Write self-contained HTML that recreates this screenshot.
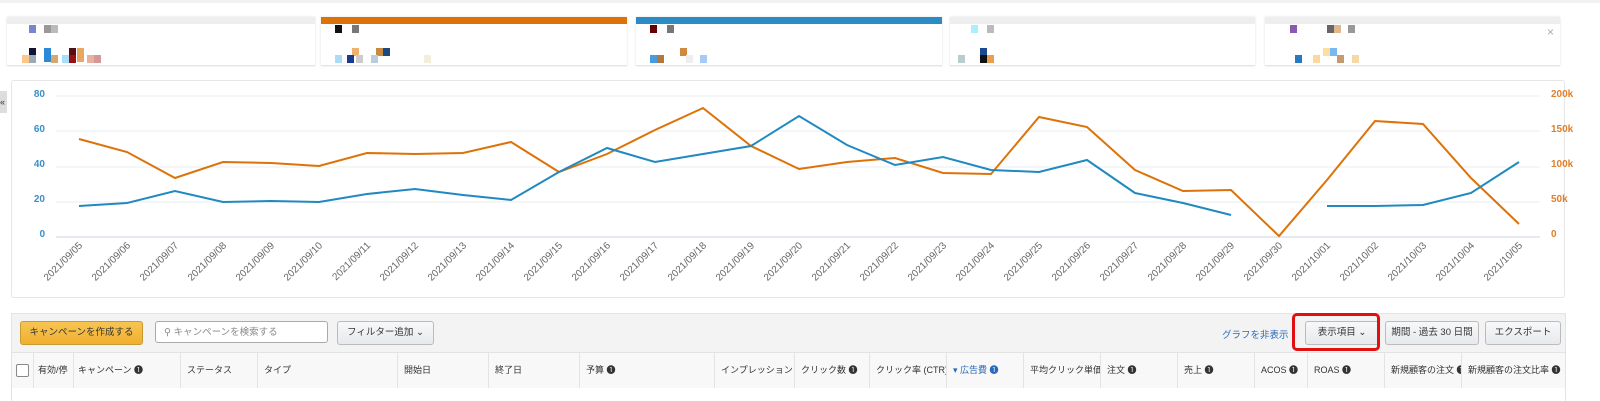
<!DOCTYPE html>
<html><head><meta charset="utf-8"><style>
body{margin:0;width:1600px;height:401px;background:#fff;font-family:"Liberation Sans","Noto Sans CJK JP",sans-serif;position:relative;overflow:hidden}
.abs{position:absolute}
.card{position:absolute;top:17px;height:48px;background:#fff;border-bottom:1px solid #e4e4e4;box-shadow:0 0 2px #ddd}
.bar{position:absolute;left:0;right:0;top:0;height:7px;background:#eee}
.px{position:absolute;width:7px;height:8px}
.btn{position:absolute;height:22px;border:1px solid #bbb;border-radius:3px;background:linear-gradient(#f7f8fa,#e7e9ec);font-size:9.5px;color:#333;line-height:22px;text-align:center}
.th{position:absolute;top:352px;height:36px;line-height:36px;font-size:9px;color:#333;border-left:1px solid #e3e3e3;padding-left:6px;box-sizing:border-box;white-space:nowrap;overflow:hidden}
</style></head><body>
<div class="abs" style="left:0;top:0;width:1600px;height:3px;background:#f2f2f2"></div>
<div class="card" style="left:7px;width:308px"><div class="bar"></div>
<div class="px" style="left:22px;top:8px;background:#7a86cc"></div><div class="px" style="left:37px;top:8px;background:#999"></div><div class="px" style="left:44px;top:8px;background:#bbb"></div>
<div class="px" style="left:22px;top:31px;background:#113"></div><div class="px" style="left:37px;top:31px;background:#2a8ad8;height:14px"></div><div class="px" style="left:62px;top:31px;background:#511;height:14px"></div><div class="px" style="left:70px;top:31px;background:#e8a860;height:14px"></div><div class="px" style="left:15px;top:38px;background:#fcc88a"></div><div class="px" style="left:22px;top:38px;background:#9ab"></div><div class="px" style="left:44px;top:38px;background:#d4a870"></div><div class="px" style="left:55px;top:38px;background:#aaddf8"></div><div class="px" style="left:62px;top:38px;background:#911"></div><div class="px" style="left:80px;top:38px;background:#e8b0a0"></div><div class="px" style="left:87px;top:38px;background:#d49898"></div></div>
<div class="card" style="left:321px;width:306px"><div class="bar" style="background:#dd7208"></div>
<div class="px" style="left:14px;top:8px;background:#111"></div><div class="px" style="left:31px;top:8px;background:#777"></div>
<div class="px" style="left:31px;top:31px;background:#f0b070"></div><div class="px" style="left:55px;top:31px;background:#c88a40"></div><div class="px" style="left:62px;top:31px;background:#1a4a80"></div><div class="px" style="left:14px;top:38px;background:#aadcf8"></div><div class="px" style="left:26px;top:38px;background:#1a3a90"></div><div class="px" style="left:35px;top:38px;background:#ccc"></div><div class="px" style="left:50px;top:38px;background:#bcd"></div><div class="px" style="left:103px;top:38px;background:#f2eedc"></div></div>
<div class="card" style="left:636px;width:306px"><div class="bar" style="background:#2c8ac4"></div>
<div class="px" style="left:14px;top:8px;background:#600"></div><div class="px" style="left:31px;top:8px;background:#777"></div>
<div class="px" style="left:44px;top:31px;background:#d08a40"></div><div class="px" style="left:14px;top:38px;background:#4a9ae0"></div><div class="px" style="left:21px;top:38px;background:#b07840"></div><div class="px" style="left:50px;top:38px;background:#eee"></div><div class="px" style="left:64px;top:38px;background:#a8c8f8"></div></div>
<div class="card" style="left:950px;width:305px"><div class="bar"></div>
<div class="px" style="left:21px;top:8px;background:#aef"></div><div class="px" style="left:37px;top:8px;background:#bbb"></div>
<div class="px" style="left:30px;top:31px;background:#1a4a90"></div><div class="px" style="left:8px;top:38px;background:#bcc"></div><div class="px" style="left:30px;top:38px;background:#111"></div><div class="px" style="left:37px;top:38px;background:#e8a050"></div></div>
<div class="card" style="left:1265px;width:295px"><div class="bar"></div>
<div class="px" style="left:25px;top:8px;background:#8a5ab0"></div><div class="px" style="left:62px;top:8px;background:#666"></div><div class="px" style="left:69px;top:8px;background:#e0b890"></div><div class="px" style="left:83px;top:8px;background:#999"></div>
<div class="px" style="left:30px;top:38px;background:#2a78c0"></div><div class="px" style="left:58px;top:31px;background:#fde0a0"></div><div class="px" style="left:65px;top:31px;background:#7ab8f0"></div><div class="px" style="left:48px;top:38px;background:#fcd8a0"></div><div class="px" style="left:72px;top:38px;background:#c89a70"></div><div class="px" style="left:87px;top:38px;background:#f4d8a8"></div>
<div class="abs" style="right:6px;top:8px;font-size:12px;color:#aaa">×</div></div>

<div class="abs" style="left:0;top:91px;width:7px;height:22px;background:#ddd;font-size:9px;line-height:22px;color:#333">«</div>
<div class="abs" style="left:11px;top:80px;width:1554px;height:218px;border:1px solid #e6e6e6;border-radius:3px;box-sizing:border-box"></div>
<svg class="abs" style="left:0;top:0" width="1600" height="401">
<g stroke="#e8ecef" stroke-width="1"><line x1="56" x2="1540" y1="96" y2="96"/><line x1="56" x2="1540" y1="131" y2="131"/><line x1="56" x2="1540" y1="167" y2="167"/><line x1="56" x2="1540" y1="202" y2="202"/></g>
<line x1="56" x2="1540" y1="237" y2="237" stroke="#ccd6e0"/>
<g font-size="10" fill="#3a8fc4" font-weight="bold" text-anchor="end" font-family="Liberation Sans,sans-serif"><text x="45" y="97">80</text><text x="45" y="132">60</text><text x="45" y="167">40</text><text x="45" y="202">20</text><text x="45" y="237">0</text></g>
<g font-size="10" fill="#e07f2a" font-weight="bold" font-family="Liberation Sans,sans-serif"><text x="1551" y="97">200k</text><text x="1551" y="132">150k</text><text x="1551" y="167">100k</text><text x="1551" y="202">50k</text><text x="1551" y="237">0</text></g>
<polyline fill="none" stroke="#dd7208" stroke-width="2" points="79,139 127,152 175,178 223,162 271,163 319,166 367,153 415,154 463,153 511,142 559,172 607,154 655,130 703,108 751,146 799,169 847,162 895,158 943,173 991,174 1039,117 1087,127 1135,170 1183,191 1231,190 1279,236 1327,180 1375,121 1423,124 1471,178 1519,224"/>
<polyline fill="none" stroke="#2089c0" stroke-width="2" points="79,206 127,203 175,191 223,202 271,201 319,202 367,194 415,189 463,195 511,200 559,172 607,148 655,162 703,154 751,146 799,116 847,145 895,165 943,157 991,170 1039,172 1087,160 1135,193 1183,203 1231,215"/>
<polyline fill="none" stroke="#2089c0" stroke-width="2" points="1327,206 1375,206 1423,205 1471,193 1519,162"/>
<g font-size="10" fill="#666" font-family="Liberation Sans,sans-serif" text-anchor="end">
<text transform="translate(83,246) rotate(-45)">2021/09/05</text><text transform="translate(131,246) rotate(-45)">2021/09/06</text><text transform="translate(179,246) rotate(-45)">2021/09/07</text><text transform="translate(227,246) rotate(-45)">2021/09/08</text><text transform="translate(275,246) rotate(-45)">2021/09/09</text><text transform="translate(323,246) rotate(-45)">2021/09/10</text><text transform="translate(371,246) rotate(-45)">2021/09/11</text><text transform="translate(419,246) rotate(-45)">2021/09/12</text><text transform="translate(467,246) rotate(-45)">2021/09/13</text><text transform="translate(515,246) rotate(-45)">2021/09/14</text><text transform="translate(563,246) rotate(-45)">2021/09/15</text><text transform="translate(611,246) rotate(-45)">2021/09/16</text><text transform="translate(659,246) rotate(-45)">2021/09/17</text><text transform="translate(707,246) rotate(-45)">2021/09/18</text><text transform="translate(755,246) rotate(-45)">2021/09/19</text><text transform="translate(803,246) rotate(-45)">2021/09/20</text><text transform="translate(851,246) rotate(-45)">2021/09/21</text><text transform="translate(899,246) rotate(-45)">2021/09/22</text><text transform="translate(947,246) rotate(-45)">2021/09/23</text><text transform="translate(995,246) rotate(-45)">2021/09/24</text><text transform="translate(1043,246) rotate(-45)">2021/09/25</text><text transform="translate(1091,246) rotate(-45)">2021/09/26</text><text transform="translate(1139,246) rotate(-45)">2021/09/27</text><text transform="translate(1187,246) rotate(-45)">2021/09/28</text><text transform="translate(1235,246) rotate(-45)">2021/09/29</text><text transform="translate(1283,246) rotate(-45)">2021/09/30</text><text transform="translate(1331,246) rotate(-45)">2021/10/01</text><text transform="translate(1379,246) rotate(-45)">2021/10/02</text><text transform="translate(1427,246) rotate(-45)">2021/10/03</text><text transform="translate(1475,246) rotate(-45)">2021/10/04</text><text transform="translate(1523,246) rotate(-45)">2021/10/05</text>
</g></svg>

<div class="abs" style="left:11px;top:313px;width:1555px;height:39px;background:#f3f3f3;border:1px solid #e3e3e3;border-bottom:none;box-sizing:border-box"></div>
<div class="btn" style="left:20px;top:321px;width:121px;background:linear-gradient(#f7c552,#f0b030);border-color:#c89a30">キャンペーンを作成する</div>
<div class="abs" style="left:155px;top:321px;width:173px;height:22px;border:1px solid #aaa;border-radius:3px;background:#fff;font-size:9.5px;color:#888;line-height:22px;padding-left:8px;box-sizing:border-box">⚲ キャンペーンを検索する</div>
<div class="btn" style="left:337px;top:321px;width:95px">フィルター追加 ⌄</div>
<div class="abs" style="left:1222px;top:327px;font-size:9.5px;color:#2a6ab8">グラフを非表示</div>
<div class="btn" style="left:1305px;top:321px;width:72px">表示項目 ⌄</div>
<div class="abs" style="left:1292px;top:313px;width:88px;height:38px;border:3px solid #e01010;border-radius:5px;box-sizing:border-box"></div>
<div class="btn" style="left:1385px;top:321px;width:92px">期間 - 過去 30 日間</div>
<div class="btn" style="left:1485px;top:321px;width:74px">エクスポート</div>
<div class="abs" style="left:11px;top:352px;width:1555px;height:37px;background:#f8f8f8;border:1px solid #e3e3e3;box-sizing:border-box"></div>
<div class="abs" style="left:11px;top:388px;width:1555px;height:13px;background:#fff;border-left:1px solid #e3e3e3;border-right:1px solid #e3e3e3;box-sizing:border-box"></div>
<div class="abs" style="left:16px;top:364px;width:11px;height:11px;border:1px solid #888;border-radius:2px;background:#fff"></div>
<div class="th" style="left:33px;width:40px;padding-left:4px">有効/停</div>
<div class="th" style="left:73px;width:107px;padding-left:4px">キャンペーン ❶</div>
<div class="th" style="left:180px;width:77px">ステータス</div>
<div class="th" style="left:257px;width:140px">タイプ</div>
<div class="th" style="left:397px;width:91px">開始日</div>
<div class="th" style="left:488px;width:91px">終了日</div>
<div class="th" style="left:579px;width:135px">予算 ❶</div>
<div class="th" style="left:714px;width:80px">インプレッション</div>
<div class="th" style="left:794px;width:75px">クリック数 ❶</div>
<div class="th" style="left:869px;width:77px">クリック率 (CTR)</div>
<div class="th" style="left:946px;width:77px;color:#2a6ab8">▾ 広告費 ❶</div>
<div class="th" style="left:1023px;width:77px">平均クリック単価</div>
<div class="th" style="left:1100px;width:77px">注文 ❶</div>
<div class="th" style="left:1177px;width:77px">売上 ❶</div>
<div class="th" style="left:1254px;width:53px">ACOS ❶</div>
<div class="th" style="left:1307px;width:77px">ROAS ❶</div>
<div class="th" style="left:1384px;width:77px">新規顧客の注文 ❶</div>
<div class="th" style="left:1461px;width:105px">新規顧客の注文比率 ❶</div>
</body></html>
